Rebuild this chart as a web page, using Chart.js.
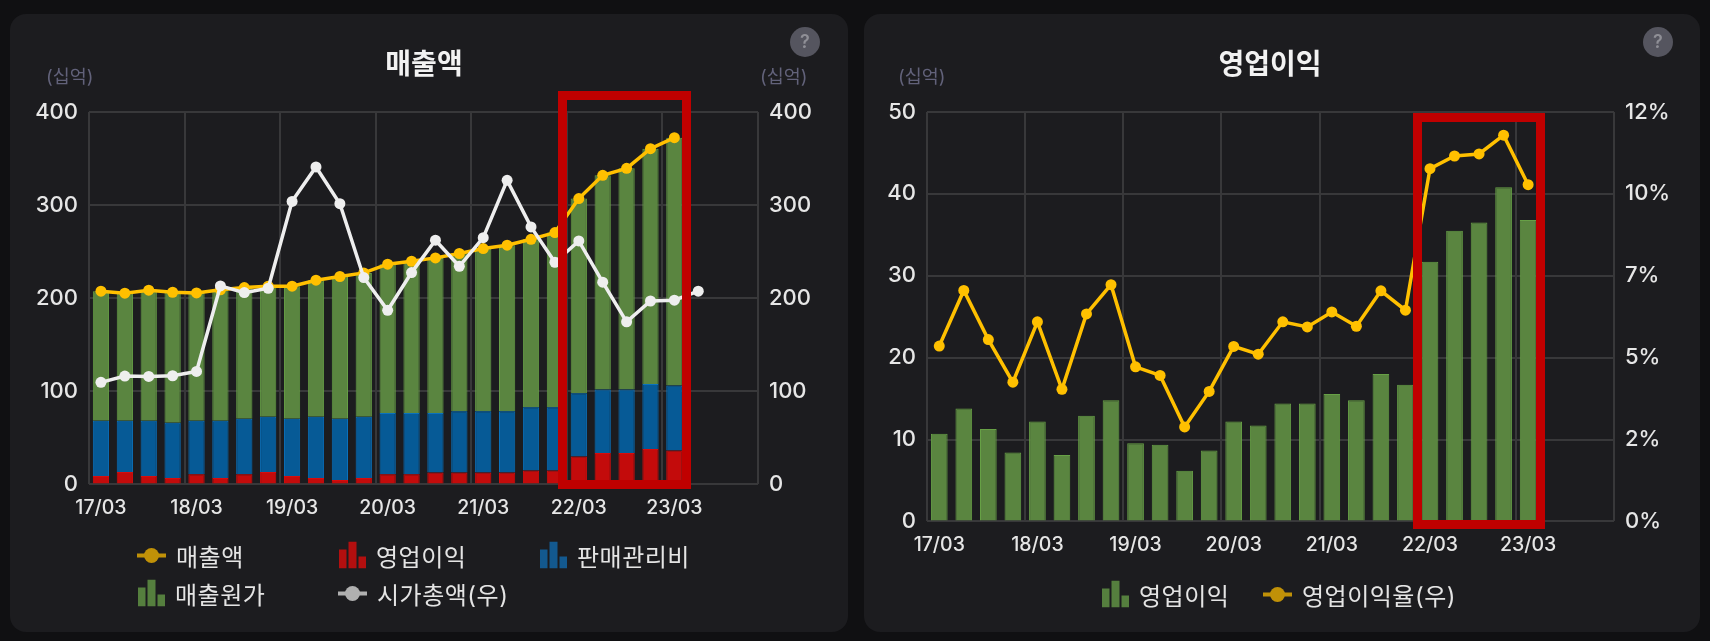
<!DOCTYPE html>
<html lang="ko">
<head>
<meta charset="utf-8">
<title>매출액 / 영업이익</title>
<script src="https://cdn.jsdelivr.net/npm/chart.js@4"></script>
<style>
  html, body { margin: 0; padding: 0; width: 1710px; height: 641px; overflow: hidden; background: #101012; }
  body { position: relative; font-family: Inter, "Noto Sans CJK KR", sans-serif; color: #e8e8e8; }
  .card { position: absolute; top: 14px; width: 838px; height: 618px; background: #1c1c1f; border-radius: 16px; }
  #cardLeft { left: 10px; }
  #cardRight { left: 864px; width: 836px; }
  canvas { position: absolute; left: 0; top: 0; }
  .title { position: absolute; top: 62px; transform: translate(-50%, -50%); font-size: 28px; font-weight: 700; color: #f2f2f2; white-space: nowrap; }
  .unit { position: absolute; top: 75px; transform: translateY(-50%); font-size: 18.5px; color: #62627a; white-space: nowrap; }
  .help { position: absolute; top: 27px; width: 30px; height: 30px; border-radius: 50%; background: #55555f; color: #8f8f96; font-size: 18px; font-weight: 600; line-height: 30px; text-align: center; }
  .hilite { position: absolute; box-sizing: border-box; border: 9px solid #c00000; }
  .leg { position: absolute; transform: translateY(-50%); display: flex; align-items: center; font-size: 24px; letter-spacing: 0.5px; color: #e4e4e4; white-space: nowrap; }
  .leg svg { display: block; margin-right: 10px; }
</style>
</head>
<body>
<div class="card" id="cardLeft"><canvas id="salesChart" width="838" height="618"></canvas></div>
<div class="card" id="cardRight"><canvas id="profitChart" width="836" height="618"></canvas></div>

<div class="title" style="left:424px">매출액</div>
<div class="title" style="left:1270px">영업이익</div>
<div class="unit" style="left:46px">(십억)</div>
<div class="unit" style="left:760px">(십억)</div>
<div class="unit" style="left:898px">(십억)</div>
<div class="help" style="left:790px">?</div>
<div class="help" style="left:1643px">?</div>
<div class="hilite" style="left:558px;top:91px;width:133px;height:398px"></div>
<div class="hilite" style="left:1413px;top:113px;width:132px;height:416px"></div>
<div id="legends"></div>

<script>
// 분기 라벨
const categories = ['17/03','17/06','17/09','17/12','18/03','18/06','18/09','18/12','19/03','19/06','19/09','19/12','20/03','20/06','20/09','20/12','21/03','21/06','21/09','21/12','22/03','22/06','22/09','22/12','23/03','23/06','23/09','23/12'];

const marginTicks = ['0%', '2%', '5%', '7%', '10%', '12%'];

// 왼쪽 차트 (십억)
const sales = [207.5,205.4,208.6,206.4,205.7,209,211.4,212.9,212.9,219.3,223.3,227.2,236.5,239.7,243.3,248,253.3,256.9,263.3,270.5,307,332,339.5,360.6,372.4,null,null,null];
const operatingIncomeBars = [8.9,13.2,8.9,6.8,11,6.8,11,13.2,8.9,6.8,4.6,6.8,11,11,12.8,12.8,12.8,12.8,14.9,14.9,29.9,33.8,33.8,38.1,36.3,null,null,null];
const sgaExpense = [59.5,55.2,59.5,59.5,57.4,61.6,59.5,59.5,61.6,65.9,65.9,65.9,65.6,65.6,63.8,65.9,65.9,65.9,68.1,68.1,68,68.1,68.1,69.8,69.8,null,null,null];
const costOfSales = [139.1,137,140.2,140.1,137.3,140.6,140.9,140.2,142.4,146.6,152.8,154.5,159.9,163.1,166.7,169.3,174.6,178.2,180.3,187.5,209.1,230.1,237.6,252.7,266.3,null,null,null];
const marketCap = [109.6,116.4,116,116.7,121.4,213.2,206,210.7,304,341,301.5,222.2,187,227.5,262.3,234.3,265,326.6,276.6,238.6,261.5,217.2,174.6,197,197.9,207.5,null,null];

// 오른쪽 차트
const operatingIncome = [10.7,13.8,11.3,8.4,12.2,8.1,12.9,14.8,9.55,9.35,6.2,8.65,12.2,11.7,14.4,14.4,15.55,14.8,18,16.7,31.7,35.5,36.5,40.8,36.8,null,null,null];
const operatingMargin = [5.14,6.77,5.33,4.08,5.85,3.87,6.08,6.94,4.53,4.28,2.77,3.81,5.13,4.9,5.85,5.7,6.14,5.72,6.76,6.19,10.34,10.71,10.77,11.32,9.87,null,null,null];

const GOLD = '#ffc000', WHITE = '#eeeeee';
const GREEN = '#5a8540', GREEN_EDGE = '#67a046';
const BLUE = '#065a96', BLUE_EDGE = '#0a72bd';
const RED = '#c30b0b', RED_EDGE = '#d80c0c';
const GRID = '#38383a', TICK = '#e6e6e6';
const FONT = 'Inter, "Noto Sans CJK KR", sans-serif';

function barSet(label, data, fill, edge, order, extra) {
  return Object.assign({ type: 'bar', label, data, backgroundColor: fill, borderColor: edge, borderWidth: 1, barPercentage: 0.68, categoryPercentage: 1, order }, extra);
}
function lineSet(label, data, color, order, extra) {
  return Object.assign({ type: 'line', label, data, borderColor: color, backgroundColor: color, borderWidth: 3.5, pointRadius: 5.5, pointHoverRadius: 5.5, pointBorderWidth: 0, tension: 0, order }, extra);
}

// x축: 4분기마다 눈금선, 연도 라벨만 표시
function xAxis(stacked, height) {
  return {
    stacked,
    afterFit: s => { s.height = height; },
    border: { display: false },
    grid: { offset: true, drawTicks: false, lineWidth: 2, color: c => (c.tick === undefined || c.index % 4 === 0) ? GRID : 'transparent' },
    ticks: {
      autoSkip: false, maxRotation: 0, padding: 12, color: TICK, font: { size: 19.5, family: FONT, weight: '500' },
      callback: (v, i) => (i % 4 === 0 && i <= 24) ? categories[i] : ''
    }
  };
}
function yAxis(position, width, max, stepSize, format, showGrid, stacked) {
  return {
    position, min: 0, max, stacked,
    afterFit: s => { s.width = width; },
    border: { display: false },
    grid: { display: showGrid, drawTicks: false, lineWidth: 2, color: GRID },
    ticks: { stepSize, padding: 11, color: TICK, font: { size: 22, family: FONT, weight: '500' }, callback: format }
  };
}

const salesChart = new Chart(document.getElementById('salesChart'), {
  data: {
    labels: categories,
    datasets: [
      lineSet('매출액', sales, GOLD, 1, { yAxisID: 'y', stack: 'salesLine' }),
      barSet('영업이익', operatingIncomeBars, RED, RED_EDGE, 2, { stack: 'cost' }),
      barSet('판매관리비', sgaExpense, BLUE, BLUE_EDGE, 3, { stack: 'cost' }),
      barSet('매출원가', costOfSales, GREEN, GREEN_EDGE, 4, { stack: 'cost' }),
      lineSet('시가총액(우)', marketCap, WHITE, 0, { yAxisID: 'y1' })
    ]
  },
  options: {
    responsive: false, animation: false,
    layout: { padding: { top: 98, bottom: 107.6, left: 0, right: 0 } },
    plugins: { legend: { display: false }, tooltip: { enabled: false } },
    scales: {
      x: xAxis(true, 40),
      y: yAxis('left', 79, 400, 100, v => v, true, true),
      y1: yAxis('right', 90, 400, 100, v => v, false, false)
    }
  }
});

const profitChart = new Chart(document.getElementById('profitChart'), {
  data: {
    labels: categories,
    datasets: [
      barSet('영업이익', operatingIncome, GREEN, GREEN_EDGE, 1),
      lineSet('영업이익율(우)', operatingMargin, GOLD, 0, { yAxisID: 'y1' })
    ]
  },
  options: {
    responsive: false, animation: false,
    layout: { padding: { top: 98, bottom: 70.6, left: 0, right: 0 } },
    plugins: { legend: { display: false }, tooltip: { enabled: false } },
    scales: {
      x: xAxis(false, 40),
      y: yAxis('left', 63, 50, 10, v => v, true, false),
      y1: yAxis('right', 86, 12, 2.4, (v, i) => marginTicks[i], false, false)
    }
  }
});

// 범례 (막대 아이콘 3개 / 선+점 아이콘)
function barIcon(color) {
  return `<svg width="27" height="27"><rect x="0" y="8" width="7.5" height="19" fill="${color}"/><rect x="9.5" y="0" width="8" height="27" fill="${color}"/><rect x="19.5" y="15" width="7.5" height="12" fill="${color}"/></svg>`;
}
function lineIcon(color) {
  return `<svg width="29" height="16"><line x1="0" y1="8" x2="29" y2="8" stroke="${color}" stroke-width="4" stroke-linecap="round"/><circle cx="14.5" cy="8" r="7.5" fill="${color}"/></svg>`;
}
function addLegend(dataset, x, y, dim) {
  const el = document.createElement('div');
  el.className = 'leg';
  el.style.left = x + 'px';
  el.style.top = y + 'px';
  el.innerHTML = (dataset.type === 'line' ? lineIcon(dim) : barIcon(dim)) + `<span>${dataset.label}</span>`;
  document.getElementById('legends').appendChild(el);
}
const salesSets = salesChart.data.datasets, profitSets = profitChart.data.datasets;
addLegend(salesSets[0], 137, 555, '#c09108');
addLegend(salesSets[1], 339, 555, '#b30f0f');
addLegend(salesSets[2], 540, 555, '#13598f');
addLegend(salesSets[3], 138, 593, '#557f3e');
addLegend(salesSets[4], 338, 593, '#b0b0b0');
addLegend(profitSets[0], 1102, 594, '#557f3e');
addLegend(profitSets[1], 1263, 594, '#c09108');
</script>
</body>
</html>
